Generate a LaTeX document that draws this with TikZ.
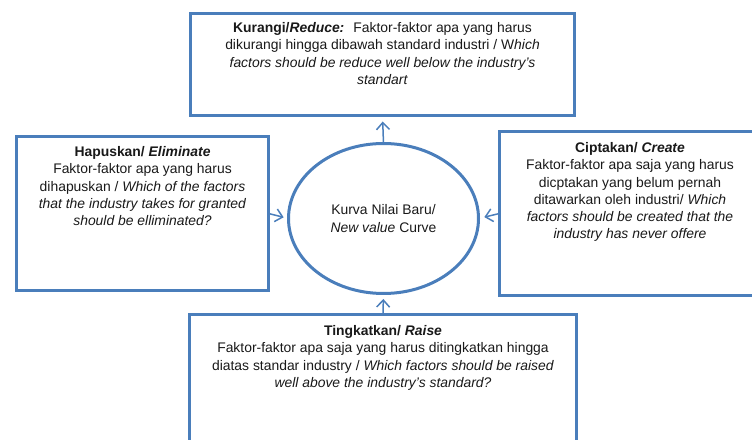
\documentclass[tikz,border=0pt]{standalone}
\usepackage{fontspec}
\setmainfont{Liberation Sans}
\usetikzlibrary{shapes.geometric,arrows.meta}
\definecolor{boxblue}{RGB}{74,126,187}
\begin{document}
\begin{tikzpicture}[x=1pt,y=1pt,
 box/.style={draw=boxblue,line width=3pt,outer sep=0pt,inner sep=0pt},
 txt/.style={anchor=north,align=center,inner sep=0pt,text=black!90,font=\fontsize{13.9}{17.2}\selectfont},
 link/.style={draw=boxblue,line width=1.5pt,-{Straight Barb[length=7pt,width=13pt]}}]
 \useasboundingbox (0,0) rectangle (752,439);
 \node[box,minimum width=384pt,minimum height=102pt] (reduce) at (382.5,374.5) {};
 \node[box,minimum width=252pt,minimum height=154pt] (eliminate) at (142.5,225.5) {};
 \node[box,minimum width=261pt,minimum height=164pt] (create) at (630,225.5) {};
 \node[box,minimum width=387pt,minimum height=146pt] (raise) at (383,51.5) {};
 \node[box,ellipse,minimum width=190pt,minimum height=150pt,align=center,text=black!90,
  font=\fontsize{13.9}{18}\selectfont] (curve) at (383.5,220.5) {Kurva Nilai Baru/\\\textit{New value} Curve};
 \node[txt] (reducetxt) at ([yshift=-9pt]reduce.north) {\textbf{Kurangi/\textit{Reduce:}}~ Faktor-faktor apa yang harus\\
  dikurangi hingga dibawah standard industri / W\textit{hich}\\
  \textit{factors should be reduce well below the industry's}\\
  \textit{standart}};
 \node[txt] (eliminatetxt) at ([yshift=-10pt]eliminate.north) {\textbf{Hapuskan/ \textit{Eliminate}}\\
  Faktor-faktor apa yang harus\\
  dihapuskan / \textit{Which of the factors}\\
  \textit{that the industry takes for granted}\\
  \textit{should be elliminated?}};
 \node[txt] (createtxt) at ([yshift=-11pt]create.north) {\textbf{Ciptakan/ \textit{Create}}\\
  Faktor-faktor apa saja yang harus\\
  dicptakan yang belum pernah\\
  ditawarkan oleh industri/ \textit{Which}\\
  \textit{factors should be created that the}\\
  \textit{industry has never offere}};
 \node[txt] (raisetxt) at ([yshift=-11pt]raise.north) {\textbf{Tingkatkan/ \textit{Raise}}\\
  Faktor-faktor apa saja yang harus ditingkatkan hingga\\
  diatas standar industry / \textit{Which factors should be raised}\\
  \textit{well above the industry's standard?}};
 \draw[link,shorten >=6pt] (curve.north) -- (reduce.south);
 \draw[link,shorten >=5pt] (eliminate.east) -- (curve.west);
 \draw[link,shorten >=6pt] (create.west) -- (curve.east);
 \draw[link,shorten >=5.5pt] (raise.north) -- (curve.south);
\end{tikzpicture}
\end{document}
